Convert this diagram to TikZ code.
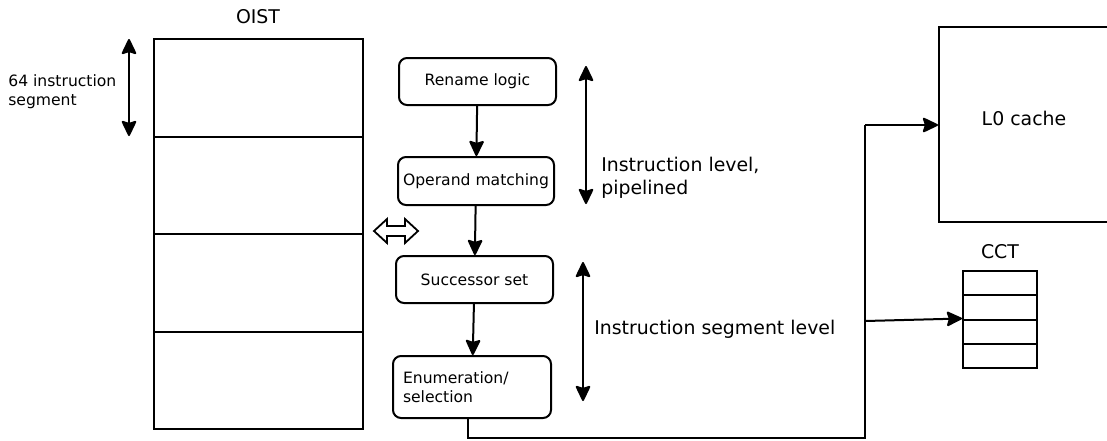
\documentclass[tikz,border=0pt]{standalone}
\usepackage{fontspec}
\setmainfont{DejaVu Sans}
\usetikzlibrary{arrows.meta}
\begin{document}
\begin{tikzpicture}[x=1pt,y=-1pt,
  line width=2pt,
  small/.style={font=\fontsize{15.6}{19}\selectfont},
  big/.style={font=\fontsize{18.9}{23}\selectfont},
  stepbox/.style={draw,rounded corners=8pt,small,inner sep=0pt},
  cell/.style={draw,inner sep=0pt},
  tip/.tip={Stealth[length=17pt,width=16pt,inset=2.5pt,round=false]},
  arr/.style={-tip},
  darr/.style={tip-tip}
]
\useasboundingbox (0,0) rectangle (1107,440);
% OIST
\node[big] (oistl) at (258,17) {OIST};
\foreach \i in {0,1,2,3}{
  \node[cell,minimum width=209pt,minimum height=97.5pt] (seg\i) at (258.5,{87.75+97.5*\i}) {};
}
\coordinate (sa) at (129,39);
\coordinate (sb) at (129,136);
\draw[darr] (sa) -- (sb);
\node[small,align=left,anchor=west] (segl) at (4,92) {64 instruction\\segment};
% steps
\node[stepbox,minimum width=157pt,minimum height=47pt] (ren) at (477.5,81.5) {Rename logic};
\node[stepbox,minimum width=156pt,minimum height=48pt] (opm) at (476,181) {Operand matching};
\node[stepbox,minimum width=157pt,minimum height=47pt] (suc) at (474.5,279.5) {Successor set};
\node[stepbox,text width=138pt,inner xsep=10pt,minimum height=62pt,align=left] (enu) at (472,387) {Enumeration/\\selection};
\draw[arr] (ren) -- (opm);
\draw[arr] (opm) -- (suc);
\draw[arr] (suc) -- (enu);
% hollow double arrow
\coordinate (dbl) at (396,231);
\draw[line width=1.8pt,line join=miter] (374,231) -- (387,219) -- (387,226) -- (405,226) -- (405,219)
  -- (418,231) -- (405,243) -- (405,236) -- (387,236) -- (387,243) -- cycle;
% level arrows
\coordinate (la) at (586,66);
\coordinate (lb) at (586,204);
\draw[darr] (la) -- (lb);
\node[big,align=left,anchor=west] (ll) at (597,178) {Instruction level,\\pipelined};
\coordinate (ma) at (583,262);
\coordinate (mb) at (583,401);
\draw[darr] (ma) -- (mb);
\node[big,anchor=west] (ml) at (590,329) {Instruction segment level};
% L0 cache
\node[draw,minimum width=172pt,minimum height=195pt,inner sep=0pt] (l0) at (1025,124.5) {};
\node[big] (l0t) at (1024,118) {L0 cache};
% CCT
\node[big] (cctl) at (1000,252) {CCT};
\foreach \i in {0,1,2,3}{
  \node[cell,minimum width=74pt,minimum height=24.25pt] (cc\i) at (1000,{283.125+24.25*\i}) {};
}
% connectors
\coordinate (e0) at ([xshift=-4pt]enu.south);
\coordinate (e1) at (468,438);
\coordinate (e2) at (865,438);
\coordinate (e3) at (865,125);
\coordinate (e4) at (865,321);
\draw (e0) -- (e1) -- (e2) -- (e3);
\draw[arr] (e3) -- (e3 -| l0.west);
\draw[arr] (e4) -- (cc2.north west);
\end{tikzpicture}
\end{document}
